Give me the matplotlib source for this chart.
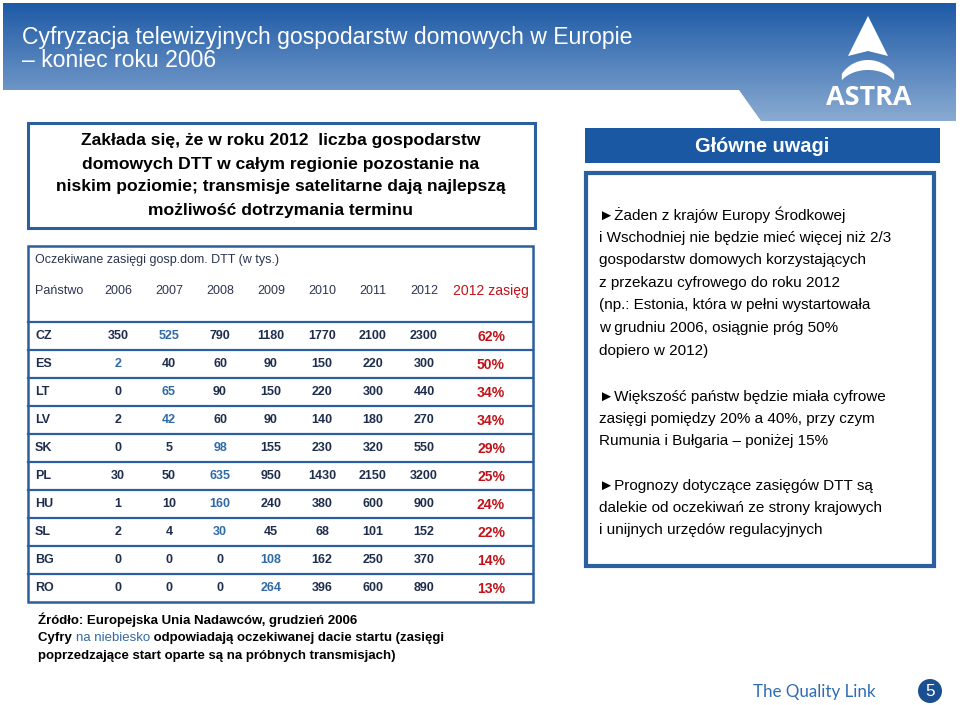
import numpy as np
import matplotlib
matplotlib.use("Agg")
import matplotlib.pyplot as plt
from matplotlib.patches import Polygon, Rectangle, Circle

# Data
countries = ["CZ", "ES", "LT", "LV", "SK", "PL", "HU", "SL", "BG", "RO"]
years = ["2006", "2007", "2008", "2009", "2010", "2011", "2012"]
y2006 = [350, 2, 0, 2, 0, 30, 1, 2, 0, 0]
y2007 = [525, 40, 65, 42, 5, 50, 10, 4, 0, 0]
y2008 = [790, 60, 90, 60, 98, 635, 160, 30, 0, 0]
y2009 = [1180, 90, 150, 90, 155, 950, 240, 45, 108, 264]
y2010 = [1770, 150, 220, 140, 230, 1430, 380, 68, 162, 396]
y2011 = [2100, 220, 300, 180, 320, 2150, 600, 101, 250, 600]
y2012 = [2300, 300, 440, 270, 550, 3200, 900, 152, 370, 890]
reach_2012 = [62, 50, 34, 34, 29, 25, 24, 22, 14, 13]
# year of expected launch (shown in blue)
launch_year = ["2007", "2006", "2007", "2007", "2008", "2008", "2008", "2008", "2009", "2009"]

columns = [y2006, y2007, y2008, y2009, y2010, y2011, y2012]

# Colours / fonts
BLUE_LINE = "#2c5f9e"
NAVY = "#1f2d4d"
CELL_BLUE = "#2e6aa6"
RED = "#c0141a"
SANS = ["Liberation Sans", "DejaVu Sans"]

fig = plt.figure(figsize=(9.6, 7.05), dpi=100)
ax = fig.add_axes([0, 0, 1, 1])
ax.set_xlim(0, 960)
ax.set_ylim(705, 0)
ax.axis("off")


def px(p):
    # pixel size -> points
    return p * 0.72


# Banner with gradient
banner = Polygon([(3, 3), (956, 3), (956, 121), (761, 121), (739, 90), (3, 90)],
                 closed=True, facecolor="none", edgecolor="none")
ax.add_patch(banner)
top = np.array([0x1e, 0x5a, 0xa6]) / 255
bot = np.array([0x8a, 0xab, 0xd2]) / 255
t = np.linspace(0, 1, 200)[:, None]
grad = (top[None, :] * (1 - t) + bot[None, :] * t)[:, None, :]
grad = np.repeat(grad, 2, axis=1)
im = ax.imshow(grad, extent=[3, 956, 121, 3], aspect="auto", zorder=1)
im.set_clip_path(banner)
ax.set_xlim(0, 960)
ax.set_ylim(705, 0)

ax.text(22, 44, "Cyfryzacja telewizyjnych gospodarstw domowych w Europie",
        color="white", fontsize=px(23), family=SANS, va="baseline", ha="left", zorder=3)
ax.text(22, 67, "– koniec roku 2006", color="white", fontsize=px(23),
        family=SANS, va="baseline", ha="left", zorder=3)

# ASTRA logo
ax.add_patch(Polygon([(868, 16), (888, 56), (868, 51), (848, 56)], closed=True,
                     facecolor="white", edgecolor="none", zorder=3))
th = np.linspace(np.pi * 0.18, np.pi * 0.82, 40)
outer = np.column_stack([868 + 31 * np.cos(th), 90 - 30 * np.sin(th)])
inner = np.column_stack([868 + 31 * np.cos(th[::-1]), 92 - 22 * np.sin(th[::-1])])
ax.add_patch(Polygon(np.vstack([outer, inner]), closed=True,
                     facecolor="white", edgecolor="none", zorder=3))
ax.text(869, 98, "ASTRA", color="white", fontsize=px(27), fontweight="bold",
        family=["Open Sans", "DejaVu Sans"], ha="center", va="center", zorder=3)

# Callout box
ax.add_patch(Rectangle((28, 123), 507, 105, facecolor="white",
                       edgecolor=BLUE_LINE, lw=2.2, zorder=2))
callout = ["Zakłada się, że w roku 2012  liczba gospodarstw",
           "domowych DTT w całym regionie pozostanie na",
           "niskim poziomie; transmisje satelitarne dają najlepszą",
           "możliwość dotrzymania terminu"]
for i, line in enumerate(callout):
    ax.text(281, 141 + i * 23, line, fontsize=px(17.5), fontweight="bold",
            family=SANS, ha="center", va="center", color="black", zorder=3)

# Table
tx0, tx1 = 28, 533
ax.add_patch(Rectangle((tx0, 246), tx1 - tx0, 356, facecolor="white",
                       edgecolor=BLUE_LINE, lw=1.8, zorder=2))
ax.text(35, 260, "Oczekiwane zasięgi gosp.dom. DTT (w tys.)", fontsize=px(12.5),
        family=SANS, color="#2a3550", ha="left", va="center", zorder=3)
col_x = [118, 169, 220, 271, 322, 373, 424]
pct_x = 491
ax.text(35, 291, "Państwo", fontsize=px(12.5), family=SANS, color="#2a3550",
        ha="left", va="center", zorder=3)
for x, yr in zip(col_x, years):
    ax.text(x, 291, yr, fontsize=px(12.5), family=SANS, color="#2a3550",
            ha="center", va="center", zorder=3)
ax.text(pct_x, 291, "2012 zasięg", fontsize=px(14), family=SANS, color=RED,
        ha="center", va="center", zorder=3)

row_top = 322
row_h = 28
for i, c in enumerate(countries):
    yl = row_top + i * row_h
    ax.plot([tx0, tx1], [yl, yl], color=BLUE_LINE, lw=1.6, zorder=2.5)
    yc = yl + row_h / 2
    ax.text(35, yc, c, fontsize=px(12.5), fontweight="bold", family=SANS,
            color=NAVY, ha="left", va="center", zorder=3)
    for x, yr, col in zip(col_x, years, columns):
        colour = CELL_BLUE if yr == launch_year[i] else NAVY
        ax.text(x, yc, str(col[i]), fontsize=px(12.5), fontweight="bold",
                family=SANS, color=colour, ha="center", va="center", zorder=3)
    ax.text(pct_x, yc + 1, f"{reach_2012[i]}%", fontsize=px(14), fontweight="bold",
            family=SANS, color=RED, ha="center", va="center", zorder=3)

# Right panel
ax.add_patch(Rectangle((585, 128), 355, 35, facecolor="#1b58a3",
                       edgecolor="none", zorder=2))
ax.text(762, 146, "Główne uwagi", color="white", fontsize=px(20),
        fontweight="bold", family=SANS, ha="center", va="center", zorder=3)
ax.add_patch(Rectangle((586, 173), 348, 393, facecolor="white",
                       edgecolor=BLUE_LINE, lw=3, zorder=2))
notes = [
    (215, "►Żaden z krajów Europy Środkowej"),
    (238, "i Wschodniej nie będzie mieć więcej niż 2/3"),
    (260, "gospodarstw domowych korzystających"),
    (283, "z przekazu cyfrowego do roku 2012"),
    (305, "(np.: Estonia, która w pełni wystartowała"),
    (328, "w grudniu 2006, osiągnie próg 50%"),
    (351, "dopiero w 2012)"),
    (397, "►Większość państw będzie miała cyfrowe"),
    (419, "zasięgi pomiędzy 20% a 40%, przy czym"),
    (441, "Rumunia i Bułgaria – poniżej 15%"),
    (486, "►Prognozy dotyczące zasięgów DTT są"),
    (508, "dalekie od oczekiwań ze strony krajowych"),
    (530, "i unijnych urzędów regulacyjnych"),
]
for y, line in notes:
    ax.text(599, y, line, fontsize=px(15.3), family=SANS, color="black",
            ha="left", va="center", zorder=3)

# Footnotes
fn_kw = dict(fontsize=px(13.2), fontweight="bold", family=SANS,
             va="center", ha="left", zorder=3)
ax.text(38, 620, "Źródło: Europejska Unia Nadawców, grudzień 2006", color="black", **fn_kw)
t1 = ax.text(38, 638, "Cyfry ", color="black", **fn_kw)
fig.canvas.draw()
r = fig.canvas.get_renderer()
inv = ax.transData.inverted()


def right_edge(txt):
    bb = txt.get_window_extent(renderer=r)
    return inv.transform((bb.x1, bb.y0))[0]


x2 = right_edge(t1)
t2 = ax.text(x2, 638, "na niebiesko", color=CELL_BLUE,
             **{**fn_kw, "fontweight": "normal"})
x3 = right_edge(t2)
ax.text(x3, 638, " odpowiadają oczekiwanej dacie startu (zasięgi", color="black", **fn_kw)
ax.text(38, 656, "poprzedzające start oparte są na próbnych transmisjach)", color="black", **fn_kw)

# Footer
ax.text(814, 692, "The Quality Link", color="#2f6db3", fontsize=px(17),
        family=["Lato", "DejaVu Sans"],
        ha="center", va="center", zorder=3)
ax.add_patch(Circle((930, 691), 12, facecolor="#1a4f90", edgecolor="none", zorder=3))
ax.text(930, 691, "5", color="white", fontsize=px(17), family=SANS,
        ha="center", va="center", zorder=4)

fig.savefig("out.png", dpi=100, facecolor="white")
